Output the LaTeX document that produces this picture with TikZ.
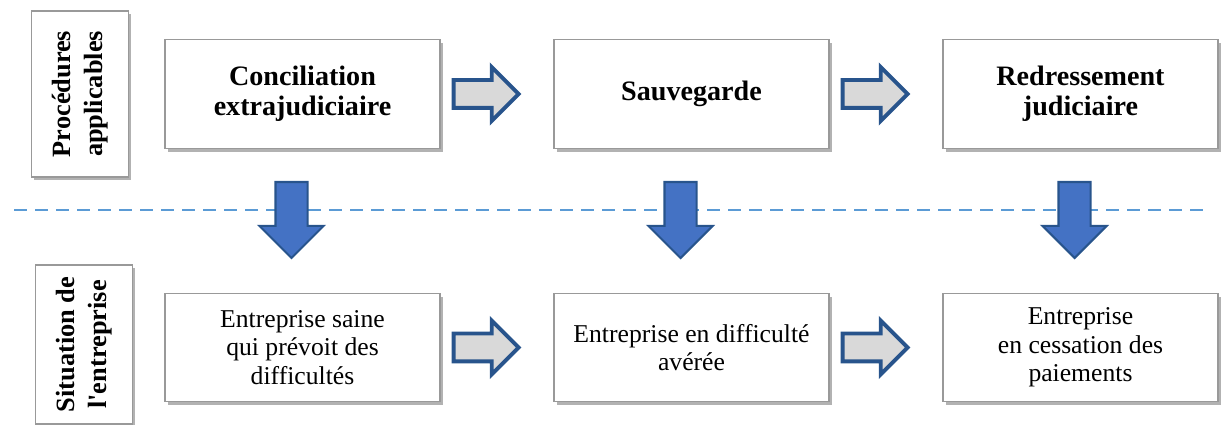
\documentclass[tikz,border=0pt]{standalone}
\usepackage{fontspec}
\setmainfont{Liberation Serif}
\usetikzlibrary{positioning, shapes.arrows, shadows}
\definecolor{arrow-blue}{RGB}{68,114,196}
\definecolor{arrow-edge}{RGB}{40,84,140}
\definecolor{dash-blue}{RGB}{91,155,213}

\begin{document}
\begin{tikzpicture}
    [box/.style = {rectangle, draw=gray!80, fill=white, align=center, line width=0.8pt,
            minimum width=5.5cm, minimum height=2.17cm,
            drop shadow={shadow xshift=0.05cm, shadow yshift=-0.07cm, fill=black!60}},
    proc/.style = {box, font=\bfseries\fontsize{16}{16.8}\selectfont},
    situ/.style = {box, font=\fontsize{14.6}{16.2}\selectfont},
    side/.style = {box, minimum width=1.94cm, minimum height=3.32cm,
            font=\bfseries\fontsize{15}{18.5}\selectfont},
    harrow/.style = {single arrow, draw=arrow-edge, fill=gray!30, line width=2.2pt,
            minimum height=1.3cm, minimum width=0pt, inner sep=0.24cm,
            single arrow head extend=0.26cm, single arrow head indent=0pt},
    varrow/.style = {single arrow, shape border rotate=270, draw=arrow-edge, fill=arrow-blue,
            line width=1.2pt, minimum height=1.52cm, minimum width=0pt, inner sep=0.3cm,
            single arrow head extend=0.32cm, single arrow head indent=0pt},
    ]

\useasboundingbox (0, 0) rectangle (24.42, 8.5);

% separation line
\draw[dash-blue, line width=1.1pt, dash pattern=on 0.26cm off 0.16cm] (0.28, 4.3) -- (24.16, 4.3);

% procedures
\node[proc] (ca) at (6.05, 6.62) {Conciliation\\extrajudiciaire};
\node[proc] (cb) at (13.83, 6.62) {Sauvegarde};
\node[proc] (cc) at (21.61, 6.62) {Redressement\\judiciaire};

% situations
\node[situ] (da) at (6.05, 1.55) {Entreprise saine\\qui prévoit des\\difficultés};
\node[situ] (db) at (13.83, 1.55) {Entreprise en difficulté\\avérée};
\node[situ] (dc) at (21.61, 1.55) {Entreprise\\en cessation des\\paiements};

% row titles
\node[side] (sp) [left=0.7cm of ca]
    {\rotatebox{90}{\begin{tabular}{@{}c@{}}Procédures\\applicables\end{tabular}}};
\node[side, minimum height=3.18cm] (ss) [left=0.62cm of da, yshift=0.06cm]
    {\rotatebox{90}{\begin{tabular}{@{}c@{}}Situation de\\l\textquotesingle entreprise\end{tabular}}};

% arrows
\node[harrow] (ha) [right=0.22cm of ca] {};
\node[harrow] (hb) [right=0.22cm of cb] {};
\node[harrow] (hc) [right=0.22cm of da] {};
\node[harrow] (hd) [right=0.22cm of db] {};

\node[varrow] (va) [below=0.64cm of ca, xshift=-0.22cm] {};
\node[varrow] (vb) [below=0.64cm of cb, xshift=-0.22cm] {};
\node[varrow] (vc) [below=0.64cm of cc, xshift=-0.12cm] {};

\end{tikzpicture}
\end{document}
